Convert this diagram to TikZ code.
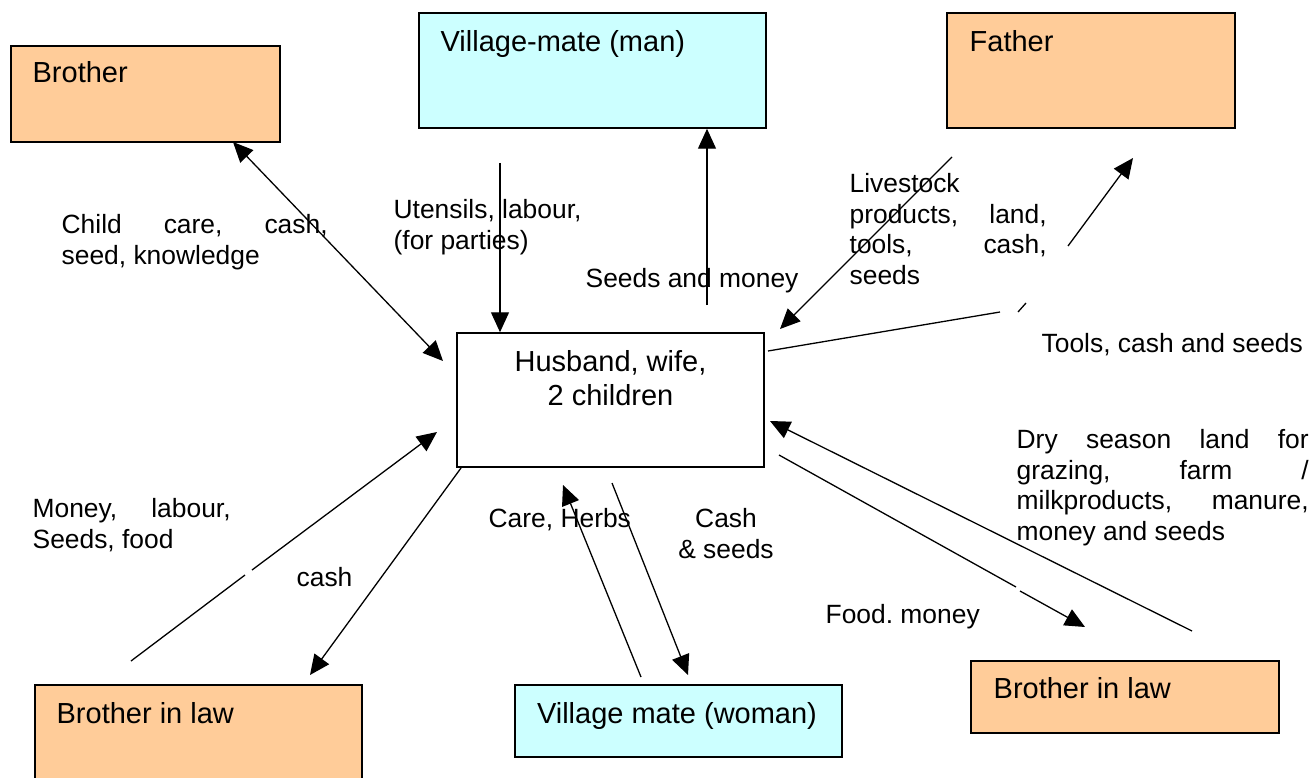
\documentclass[tikz,border=0pt]{standalone}
\usepackage{fontspec}
\setmainfont{Liberation Sans}
\usetikzlibrary{arrows.meta}
\definecolor{kinorange}{HTML}{FFCC99}
\definecolor{matecyan}{HTML}{CCFFFF}
\frenchspacing

\begin{document}
\begin{tikzpicture}[
	x=1pt, y=-1pt,
	line width=1.3pt,
	>={Triangle[length=20pt,width=18pt]},
	kin/.style={
		rectangle,
		draw,
		line width=1.5pt,
		fill=kinorange,
		inner sep=0pt
	},
	mate/.style={
		kin,
		fill=matecyan
	},
	home/.style={
		kin,
		fill=white
	},
	boxtext/.style={
		inner sep=0pt,
		font=\fontsize{29}{34}\selectfont
	},
	flow/.style={
		inner sep=0pt,
		align=left,
		font=\fontsize{26.4}{30.6}\selectfont
	}
	]
	\useasboundingbox (0,0) rectangle (1314,778);
	
	% boxes
	\node (brother) [kin, minimum width=269, minimum height=96] at (145.5,94) {};
	\node (man) [mate, minimum width=347, minimum height=115] at (592.5,70.5) {};
	\node (father) [kin, minimum width=288, minimum height=115] at (1091,70.5) {};
	\node (hh) [home, minimum width=307, minimum height=134] at (610.5,400) {};
	\node (bil_left) [kin, minimum width=327, minimum height=130] at (198.5,750) {};
	\node (woman) [mate, minimum width=327, minimum height=72] at (678.5,721) {};
	\node (bil_right) [kin, minimum width=308, minimum height=72] at (1125,697) {};
	
	% box texts
	\node (brother_txt) [boxtext, anchor=base west] at (32,83) {Brother};
	\node (man_txt) [boxtext, anchor=base west] at (440,52) {Village-mate (man)};
	\node (father_txt) [boxtext, anchor=base west] at (969,52) {Father};
	\node (hh_txt) [boxtext, anchor=north, align=center] at (610.5,350) {Husband, wife,\\2 children};
	\node (bil_left_txt) [boxtext, anchor=base west] at (56,723) {Brother in law};
	\node (woman_txt) [boxtext, anchor=base] at (677,723) {Village mate (woman)};
	\node (bil_right_txt) [boxtext, anchor=base west] at (993,698) {Brother in law};
	
	% free ends
	\coordinate (br_a) at (233,142);
	\coordinate (br_b) at (443,361);
	\coordinate (ut_a) at (500,163);
	\coordinate (sm_a) at (707,305);
	\coordinate (lv_a) at (952,157);
	\coordinate (lv_b) at (780,329);
	\coordinate (tc_a) at (768,351);
	\coordinate (tc_b) at (1000,312);
	\coordinate (tc_c) at (1018,312);
	\coordinate (tc_d) at (1026,303);
	\coordinate (tc_e) at (1068,246);
	\coordinate (tc_f) at (1133,158);
	\coordinate (ds_a) at (1192,631);
	\coordinate (ds_b) at (770,421);
	\coordinate (fm_a) at (779,455);
	\coordinate (fm_b) at (1016,587);
	\coordinate (fm_c) at (1020,591);
	\coordinate (fm_d) at (1085,627);
	\coordinate (cs_a) at (612,483);
	\coordinate (cs_b) at (688,675);
	\coordinate (ch_a) at (641,677);
	\coordinate (ch_b) at (563,485);
	\coordinate (ml_a) at (131,661);
	\coordinate (ml_b) at (245,575);
	\coordinate (ml_c) at (252,570);
	\coordinate (ml_d) at (437,432);
	\coordinate (ca_a) at (461,468);
	\coordinate (ca_b) at (310,675);
	
	% connectors
	\draw[<->] (br_a) -- (br_b);
	\draw[->] (ut_a) -- (ut_a |- hh.north);
	\draw[->] (sm_a) -- (sm_a |- man.south);
	\draw[->] (lv_a) -- (lv_b);
	\draw (tc_a) -- (tc_b);
	\draw (tc_c) -- (tc_d);
	\draw[->] (tc_e) -- (tc_f);
	\draw[->] (ds_a) -- (ds_b);
	\draw (fm_a) -- (fm_b);
	\draw[->] (fm_c) -- (fm_d);
	\draw[->] (cs_a) -- (cs_b);
	\draw[->] (ch_a) -- (ch_b);
	\draw (ml_a) -- (ml_b);
	\draw[->] (ml_c) -- (ml_d);
	\draw[->] (ca_a) -- (ca_b);
	
	% flow labels
	\node (childcare) [flow, anchor=north west] at (61,214) {\makebox[266pt][s]{Child care, cash,}\\seed, knowledge};
	\node (utensils) [flow, anchor=north west] at (393,199) {Utensils, labour,\\(for parties)};
	\node (seedsmoney) [flow, anchor=base west] at (585,287) {Seeds and money};
	\node (livestock) [flow, anchor=north west] at (849,173) {Livestock\\\makebox[197pt][s]{products, land,}\\\makebox[197pt][s]{tools, cash,}\\seeds};
	\node (toolscash) [flow, anchor=base west] at (1041,352) {Tools, cash and seeds};
	\node (dryseason) [flow, anchor=north west] at (1016,429) {\makebox[292pt][s]{Dry season land for}\\\makebox[292pt][s]{grazing, farm /}\\\makebox[292pt][s]{milkproducts, manure,}\\money and seeds};
	\node (moneylabour) [flow, anchor=north west] at (32,498) {\makebox[198pt][s]{Money, labour,}\\Seeds, food};
	\node (cashleft) [flow, anchor=base west] at (296,586) {cash};
	\node (careherbs) [flow, anchor=base west] at (488,527) {Care, Herbs};
	\node (cashseeds) [flow, anchor=north, align=center] at (726,508) {Cash\\\& seeds};
	\node (foodmoney) [flow, anchor=base west] at (825,623) {Food. money};
	
\end{tikzpicture}
\end{document}
